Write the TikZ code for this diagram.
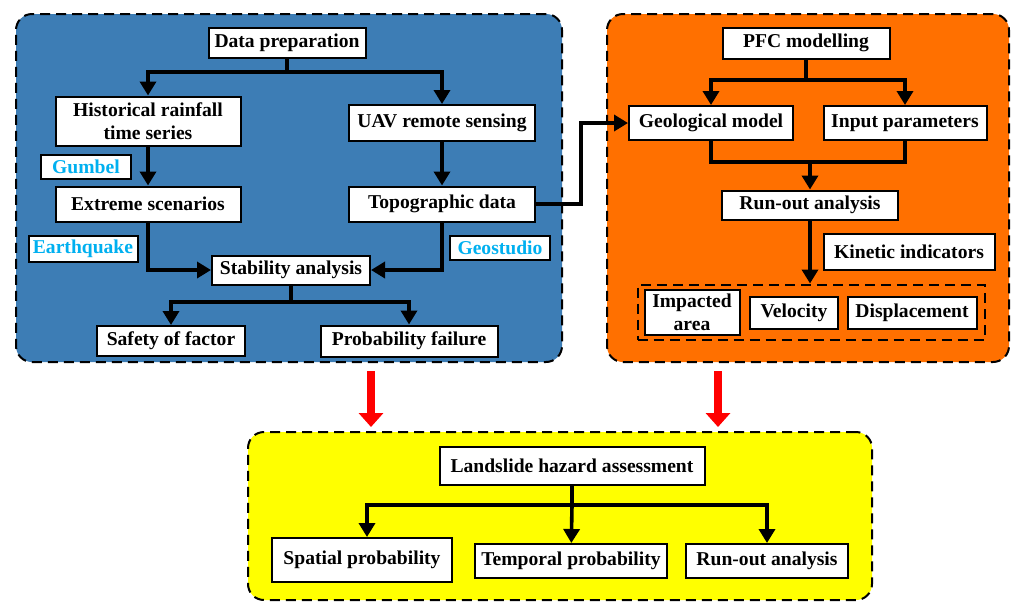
\documentclass[tikz,border=0pt]{standalone}
\usepackage{fontspec}
\setmainfont{Liberation Serif}
\usepackage{tikz}
\usetikzlibrary{arrows.meta}
\definecolor{panelblue}{RGB}{61,125,181}
\definecolor{panelorange}{RGB}{255,112,0}
\definecolor{panelyellow}{RGB}{255,255,0}
\definecolor{toolcyan}{RGB}{0,176,240}
\definecolor{flowred}{RGB}{255,0,0}

\begin{document}
\begin{tikzpicture}[x=0.5pt,y=-0.5pt,
  every node/.style={font=\fontsize{9.8}{11.5}\selectfont\bfseries},
  panel/.style={draw, dash pattern=on 5pt off 3pt, line width=1pt, rounded corners=8pt, inner sep=0pt},
  box/.style={draw, fill=white, line width=1pt, inner sep=0pt, align=center},
  tool/.style={box, text=toolcyan},
  link/.style={line width=1.8pt, -{Triangle[width=8pt,length=7pt]}},
  joinline/.style={line width=1.8pt},
  bigarrow/.style={draw=flowred, line width=4pt, -{Triangle[width=12pt,length=7pt]}}]
\useasboundingbox (0,0) rectangle (1011,601);

\node[panel, fill=panelblue, minimum width=273pt, minimum height=174pt] (blue) at (289,188) {};
\node[panel, fill=panelorange, minimum width=201pt, minimum height=174pt] (orange) at (808,188) {};
\node[panel, fill=panelyellow, minimum width=312pt, minimum height=84pt] (yellow) at (560,516) {};

\node[box, minimum width=78.5pt, minimum height=15pt] (dp) at (287,43) {Data preparation};
\node[box, minimum width=92.5pt, minimum height=24.5pt] (hist) at (148,121) {Historical rainfall\\time series};
\node[box, minimum width=93pt, minimum height=18pt] (uav) at (442,123) {UAV remote sensing};
\node[tool, minimum width=45pt, minimum height=12pt] (gumbel) at (86,167) {Gumbel};
\node[box, minimum width=92.5pt, minimum height=17.5pt] (ext) at (148,204) {Extreme scenarios};
\node[box, minimum width=93pt, minimum height=17.5pt] (topo) at (442,204) {Topographic data};
\node[tool, minimum width=54.5pt, minimum height=13pt] (quake) at (83,249) {Earthquake};
\node[tool, minimum width=50pt, minimum height=12pt] (geostudio) at (500,248) {Geostudio};
\node[box, minimum width=79pt, minimum height=14.5pt] (stab) at (291,270) {Stability analysis};
\node[box, minimum width=74pt, minimum height=15pt] (safety) at (171,341) {Safety of factor};
\node[box, minimum width=88.5pt, minimum height=15.5pt] (pfail) at (409,341) {Probability failure};

\node[box, minimum width=83.5pt, minimum height=15.5pt] (pfc) at (806,43) {PFC modelling};
\node[box, minimum width=82pt, minimum height=17pt] (geo) at (711,123) {Geological model};
\node[box, minimum width=81.5pt, minimum height=17pt] (inp) at (905,123) {Input parameters};
\node[box, minimum width=88pt, minimum height=14.5pt] (run) at (810,205) {Run-out analysis};
\node[box, minimum width=85.5pt, minimum height=18pt] (kin) at (909,252) {Kinetic indicators};
\node[draw, dash pattern=on 5pt off 3pt, line width=1pt, inner sep=0pt, minimum width=173.5pt, minimum height=27.5pt] (grp) at (811,312) {};
\node[box, minimum width=47.5pt, minimum height=22.5pt] (imp) at (692,312) {Impacted\\area};
\node[box, minimum width=44pt, minimum height=16pt] (vel) at (794,313) {Velocity};
\node[box, minimum width=64.5pt, minimum height=16pt] (disp) at (912,313) {Displacement};

\node[box, minimum width=132.5pt, minimum height=19pt] (lha) at (572,466) {Landslide hazard assessment};
\node[box, minimum width=90pt, minimum height=22pt] (spat) at (362,560) {Spatial probability};
\node[box, minimum width=96pt, minimum height=17pt] (temp) at (571,561) {Temporal probability};
\node[box, minimum width=81pt, minimum height=17pt] (rout) at (767,561) {Run-out analysis};

\coordinate (dpj) at (287,72);
\draw[joinline] (dp) -- (dpj);
\draw[link] (dpj) -| (hist);
\draw[link] (dpj) -| (uav);
\draw[link] (hist) -- (ext);
\draw[link] (uav) -- (topo);
\draw[link] (ext) |- (stab);
\draw[link] (topo) |- (stab);
\coordinate (stj) at (291,302);
\draw[joinline] (stab) -- (stj);
\draw[link] (stj) -| (safety);
\draw[link] (stj) -| (pfail);
\draw[link] (topo.east) -- ++(45,0) |- (geo);

\coordinate (pfj) at (806,80);
\draw[joinline] (pfc) -- (pfj);
\draw[link] (pfj) -| (geo);
\draw[link] (pfj) -| (inp);
\coordinate (gij) at (810,162);
\draw[joinline] (geo) |- (gij);
\draw[joinline] (inp) |- (gij);
\draw[link] (gij) -- (run);
\draw[link] (run) -- (run |- grp.north);

\coordinate (lhj) at (572,505);
\draw[joinline] (lha) -- (lhj);
\draw[link] (lhj) -| (spat.north -| 367,0);
\draw[link] (lhj) -- (temp);
\draw[link] (lhj) -| (rout);

\coordinate (ra) at (371,0);
\coordinate (rb) at (718,0);
\draw[bigarrow, shorten <=4pt, shorten >=2pt] (blue.south -| ra) -- (yellow.north -| ra);
\draw[bigarrow, shorten <=4pt, shorten >=2pt] (orange.south -| rb) -- (yellow.north -| rb);
\end{tikzpicture}
\end{document}
